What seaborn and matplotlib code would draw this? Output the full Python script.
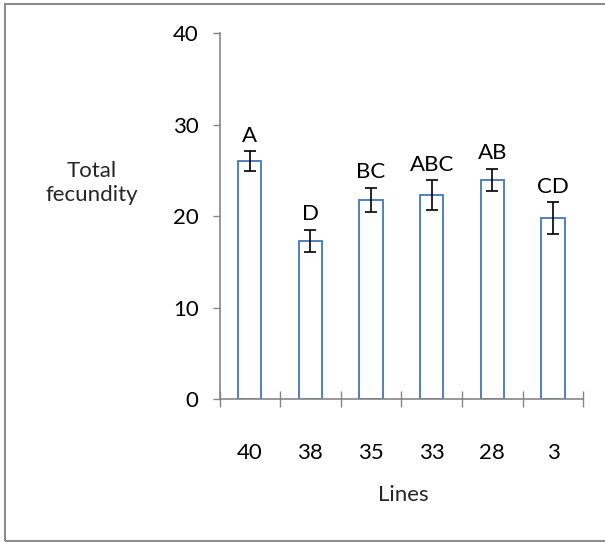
import matplotlib
matplotlib.use("Agg")
import matplotlib.pyplot as plt
from matplotlib.patches import Rectangle
import seaborn as sns
import pandas as pd

# Mean total fecundity per line, with standard errors and significance groups
lines = ["40", "38", "35", "33", "28", "3"]
fecundity = [26.0, 17.3, 21.8, 22.3, 24.0, 19.8]
std_err = [1.1, 1.2, 1.3, 1.6, 1.2, 1.7]
groups = ["A", "D", "BC", "ABC", "AB", "CD"]

sns.set_theme(style="white")
plt.rcParams["font.family"] = ["Lato", "DejaVu Sans"]

df = pd.DataFrame({"Lines": lines, "Total fecundity": fecundity})

fig = plt.figure(figsize=(6.05, 5.42), dpi=100)
ax = fig.add_axes([219.5 / 605, 1 - 399 / 542, (583.3 - 219.5) / 605, (399 - 33.3) / 542])

sns.barplot(data=df, x="Lines", y="Total fecundity", order=lines,
            width=0.385, color="white", edgecolor="#4F81BD", linewidth=1.4,
            errorbar=None, ax=ax)

xpos = list(range(len(lines)))
ax.errorbar(xpos, fecundity, yerr=std_err, fmt="none", ecolor="black",
            elinewidth=1.2, capsize=4.2, capthick=1.2, zorder=3)

for x, m, e, g in zip(xpos, fecundity, std_err, groups):
    ax.annotate(g, (x, m + e), xytext=(0, 4), textcoords="offset points",
                ha="center", va="bottom", fontsize=16, color="black")

ax.set_ylim(0, 40)
ax.set_yticks([0, 10, 20, 30, 40])
ax.set_xlim(-0.5, len(lines) - 0.5)

# category separators on the x axis, labels centred between them
ax.set_xticks([i - 0.5 for i in range(len(lines) + 1)])
ax.set_xticklabels([])
ax.set_xticks(xpos, minor=True)
ax.set_xticklabels(lines, minor=True)
ax.tick_params(axis="x", which="major", direction="inout", length=12,
               width=1, color="#868686", bottom=True)
ax.tick_params(axis="x", which="minor", length=0, pad=32, labelsize=16,
               labelcolor="black")
ax.tick_params(axis="y", which="major", direction="out", length=5,
               width=1, color="#868686", left=True, pad=10, labelsize=16,
               labelcolor="black")

for side in ("top", "right"):
    ax.spines[side].set_visible(False)
for side in ("left", "bottom"):
    ax.spines[side].set_color("#868686")
    ax.spines[side].set_linewidth(1.2)

ax.set_xlabel("")
ax.set_ylabel("")
fig.text(403 / 605, 1 - 495 / 542, "Lines", ha="center", va="center", fontsize=16)
fig.text(92 / 605, 1 - 183 / 542, "Total\nfecundity", ha="center", va="center",
         fontsize=16, linespacing=1.3)

# chart-area frame
fig.add_artist(Rectangle((5 / 605, 1 - 541 / 542), 1.0, (541 - 4) / 542,
                         transform=fig.transFigure, fill=False,
                         edgecolor="#8C8C8C", linewidth=1.5, clip_on=False))

fig.savefig("out.png", dpi=100)
